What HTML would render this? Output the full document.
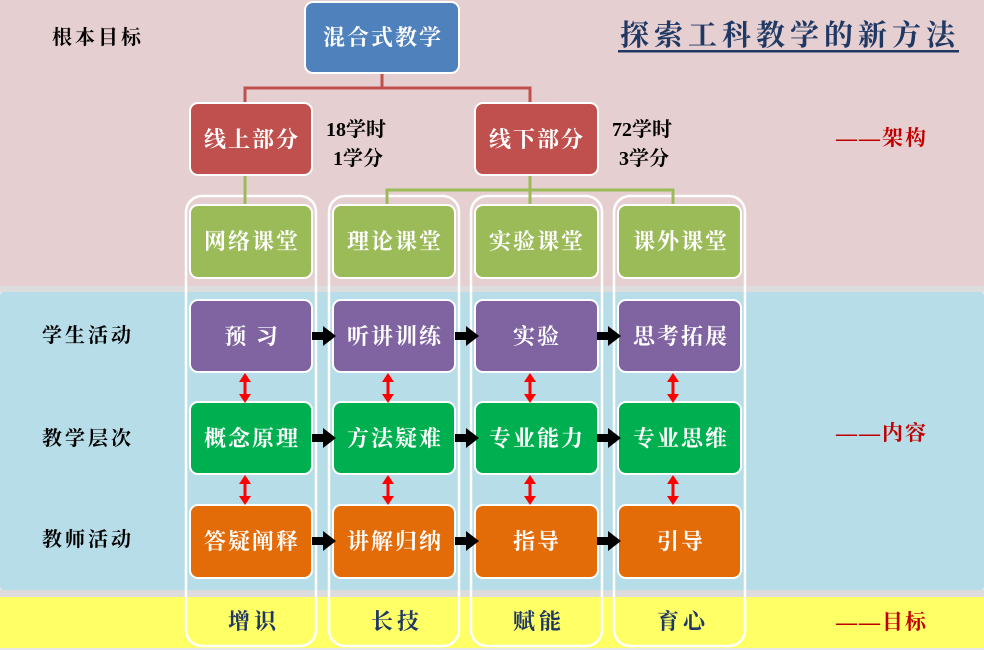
<!DOCTYPE html>
<html><head><meta charset="utf-8"><style>
html,body{margin:0;padding:0;width:984px;height:650px;overflow:hidden;background:#e8e8e8}
svg text{font-family:"Liberation Serif","Noto Serif CJK SC",serif;font-weight:bold}
</style></head><body>
<svg width="984" height="650" viewBox="0 0 984 650" xmlns="http://www.w3.org/2000/svg">
<defs>
<g id="harr"><rect x="0" y="-4" width="12" height="8" fill="#000"/><polygon points="11,-10 24,0 11,10" fill="#000"/></g>
<g id="varr"><rect x="-1.5" y="-8" width="3" height="16" fill="#f00"/><polygon points="-6,-6 0,-15 6,-6" fill="#f00"/><polygon points="-6,6 0,15 6,6" fill="#f00"/></g>
</defs>
<rect x="0" y="0" width="984" height="286" fill="#e6cfd0"/>
<rect x="0" y="286" width="984" height="6" fill="#dcdcdc"/>
<rect x="0" y="292" width="984" height="298" rx="4" fill="#b7dde8"/>
<rect x="0" y="590" width="984" height="7" fill="#dcdcdc"/>
<rect x="0" y="597" width="984" height="51" fill="#ffff66"/>

<g fill="none" stroke="#fff" stroke-width="2.5">
<rect x="186" y="196" width="130" height="450" rx="16"/>
<rect x="329" y="196" width="130" height="450" rx="16"/>
<rect x="471" y="196" width="131" height="450" rx="16"/>
<rect x="614" y="196" width="131" height="450" rx="16"/>
</g>

<polyline points="382,73 382,88 245,88 245,103" fill="none" stroke="#c0504d" stroke-width="3"/>
<polyline points="382,88 530,88 530,103" fill="none" stroke="#c0504d" stroke-width="3"/>
<line x1="245" y1="175" x2="245" y2="205" stroke="#9bbb59" stroke-width="3"/>
<line x1="530" y1="175" x2="530" y2="205" stroke="#9bbb59" stroke-width="3"/>
<polyline points="387,205 387,190 673,190 673,205" fill="none" stroke="#9bbb59" stroke-width="3"/>

<g stroke="#fff" stroke-width="2">
<rect x="305" y="2" width="154" height="71" rx="8" fill="#4f81bd"/>
<rect x="190" y="103" width="122" height="72" rx="8" fill="#c0504d"/>
<rect x="475" y="103" width="123" height="72" rx="8" fill="#c0504d"/>
<rect x="190" y="205" width="122" height="73" rx="8" fill="#9bbb59"/>
<rect x="333" y="205" width="122" height="73" rx="8" fill="#9bbb59"/>
<rect x="475" y="205" width="123" height="73" rx="8" fill="#9bbb59"/>
<rect x="618" y="205" width="123" height="73" rx="8" fill="#9bbb59"/>
<rect x="190" y="300" width="122" height="72" rx="8" fill="#8064a2"/>
<rect x="333" y="300" width="122" height="72" rx="8" fill="#8064a2"/>
<rect x="475" y="300" width="123" height="72" rx="8" fill="#8064a2"/>
<rect x="618" y="300" width="123" height="72" rx="8" fill="#8064a2"/>
<rect x="190" y="402" width="122" height="72" rx="8" fill="#00b050"/>
<rect x="333" y="402" width="122" height="72" rx="8" fill="#00b050"/>
<rect x="475" y="402" width="123" height="72" rx="8" fill="#00b050"/>
<rect x="618" y="402" width="123" height="72" rx="8" fill="#00b050"/>
<rect x="190" y="505" width="122" height="73" rx="8" fill="#e36c09"/>
<rect x="333" y="505" width="122" height="73" rx="8" fill="#e36c09"/>
<rect x="475" y="505" width="123" height="73" rx="8" fill="#e36c09"/>
<rect x="618" y="505" width="123" height="73" rx="8" fill="#e36c09"/>
</g>

<use href="#harr" x="312" y="336"/><use href="#harr" x="455" y="336"/><use href="#harr" x="597" y="336"/>
<use href="#harr" x="312" y="438"/><use href="#harr" x="455" y="438"/><use href="#harr" x="597" y="438"/>
<use href="#harr" x="312" y="541"/><use href="#harr" x="455" y="541"/><use href="#harr" x="597" y="541"/>
<use href="#varr" x="245" y="388"/><use href="#varr" x="388" y="388"/><use href="#varr" x="530" y="388"/><use href="#varr" x="673" y="388"/>
<use href="#varr" x="245" y="490"/><use href="#varr" x="388" y="490"/><use href="#varr" x="530" y="490"/><use href="#varr" x="673" y="490"/>

<g fill="#fff" font-size="22" text-anchor="middle" letter-spacing="2">
<text x="383" y="45">混合式教学</text>
<text x="252" y="147">线上部分</text>
<text x="537" y="147">线下部分</text>
<text x="252" y="249">网络课堂</text>
<text x="395" y="249">理论课堂</text>
<text x="537" y="249">实验课堂</text>
<text x="681" y="249">课外课堂</text>
<text x="252" y="344">预 习</text>
<text x="395" y="344">听讲训练</text>
<text x="537" y="344">实验</text>
<text x="681" y="344">思考拓展</text>
<text x="252" y="446">概念原理</text>
<text x="395" y="446">方法疑难</text>
<text x="537" y="446">专业能力</text>
<text x="681" y="446">专业思维</text>
<text x="252" y="549">答疑阐释</text>
<text x="395" y="549">讲解归纳</text>
<text x="537" y="549">指导</text>
<text x="681" y="549">引导</text>
</g>
<g fill="#1f3864" font-size="22" text-anchor="middle" letter-spacing="4">
<text x="254" y="629">增识</text><text x="397" y="629">长技</text><text x="539" y="629">赋能</text><text x="683" y="629">育心</text>
</g>
<g fill="#000" font-size="20" letter-spacing="3">
<text x="52" y="44">根本目标</text>
<text x="42" y="342">学生活动</text>
<text x="42" y="445">教学层次</text>
<text x="42" y="546">教师活动</text>
</g>
<g fill="#000" font-size="20">
<text x="326" y="136">18学时</text>
<text x="333" y="165">1学分</text>
<text x="612" y="136">72学时</text>
<text x="619" y="165">3学分</text>
</g>
<text x="620" y="45" font-size="29" fill="#1f3864" letter-spacing="5">探索工科教学的新方法</text>
<rect x="618" y="50" width="341" height="2.5" fill="#1f3864"/>
<g fill="#c00000" font-size="21" letter-spacing="2">
<text x="836" y="145">——架构</text>
<text x="836" y="440">——内容</text>
<text x="836" y="629">——目标</text>
</g>
</svg>
</body></html>
